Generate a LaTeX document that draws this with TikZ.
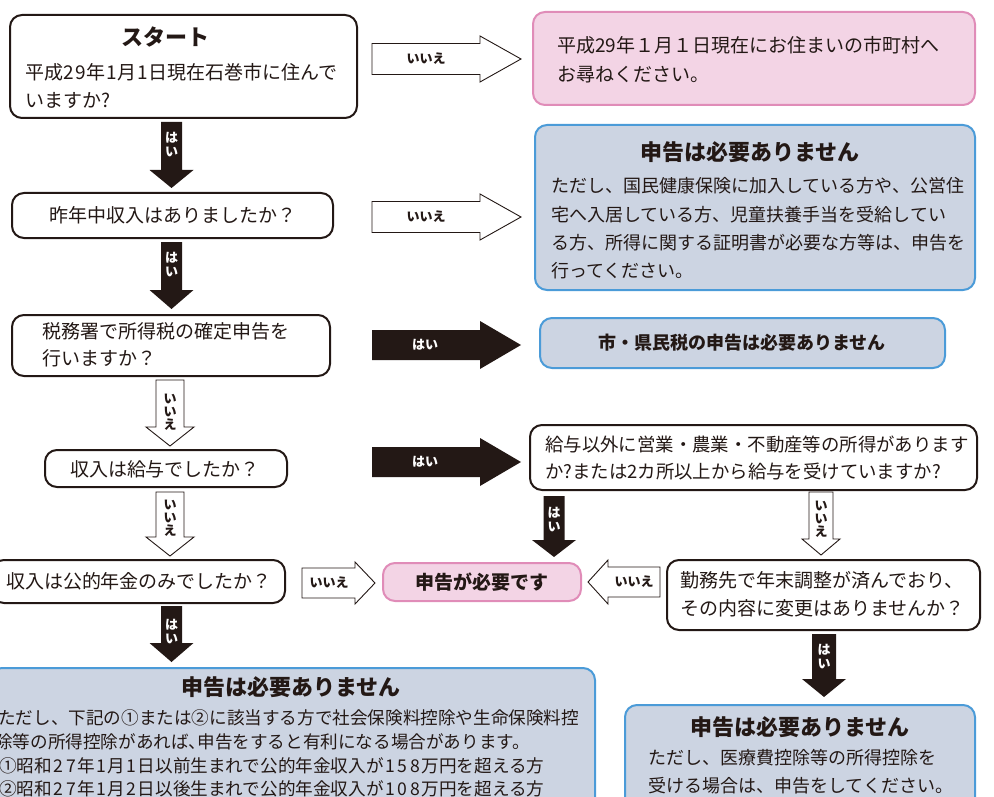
\documentclass[tikz,border=0pt]{standalone}
\usepackage{fontspec}
\setmainfont{Noto Sans CJK JP}
\definecolor{ink}{HTML}{231815}
\definecolor{pinkfill}{HTML}{F3D4E5}
\definecolor{pinkline}{HTML}{E08CB8}
\definecolor{bluefill}{HTML}{CCD4E2}
\definecolor{blueline}{HTML}{4B9BD8}
\ExplSyntaxOn
\NewDocumentCommand\D{O{0.62em}m}{\tl_map_inline:nn{#2}{\makebox[#1]{##1}}}
\ExplSyntaxOff
\newcommand{\hc}{\makebox[0.5em][l]{、}}
\newcommand{\harrow}[8]{%
  \path[#8] ({#2},{#4-#5}) -- ({#3-(#7)},{#4-#5}) -- ({#3-(#7)},{#4-#6}) -- ({#3},{#4}) -- ({#3-(#7)},{#4+#6}) -- ({#3-(#7)},{#4+#5}) -- ({#2},{#4+#5}) -- cycle;}
\newcommand{\varrow}[8]{%
  \path[#8] ({#2-#5},{#3}) -- ({#2-#5},{#4-#7}) -- ({#2-#6},{#4-#7}) -- ({#2},{#4}) -- ({#2+#6},{#4-#7}) -- ({#2+#5},{#4-#7}) -- ({#2+#5},{#3}) -- cycle;}
\tikzset{
  box/.style={draw=ink, line width=2pt, rounded corners=12pt, fill=white, inner sep=0pt},
  pinkbox/.style={draw=pinkline, line width=2pt, rounded corners=12pt, fill=pinkfill, inner sep=0pt},
  bluebox/.style={draw=blueline, line width=2pt, rounded corners=12pt, fill=bluefill, inner sep=0pt},
  txt/.style={text=ink, inner sep=0pt, font=\fontsize{19}{24}\selectfont},
  stxt/.style={text=ink, inner sep=0pt, font=\fontsize{17.6}{22}\selectfont},
  mtxt/.style={text=ink, inner sep=0pt, font=\fontsize{18}{22}\selectfont},
  ttl/.style={text=ink, inner sep=0pt, font=\bfseries\fontsize{22}{26}\selectfont},
  lab/.style={text=ink, inner sep=0pt, align=center, font=\bfseries\fontsize{13}{14}\selectfont},
  wlab/.style={text=white, inner sep=0pt, align=center, font=\bfseries\fontsize{13}{14}\selectfont},
  hollow/.style={draw=ink, line width=0.9pt, fill=white},
  solid/.style={fill=ink, draw=none},
}
\begin{document}
\begin{tikzpicture}[x=1pt,y=-1pt]
\useasboundingbox (0,0) rectangle (994,797);
\clip (0,0) rectangle (994,797);
% ---------- boxes ----------
\node[box, minimum width=347, minimum height=103] (start) at (183.5,66.5) {};
\node[ttl] (startT) at (165,37) {スタート};
\node[txt, anchor=west] (startA) at (25,72) {平成\D{29}年\D{1}月\D{1}日現在石巻市に住んで};
\node[txt, anchor=west] (startB) at (25,100) {いますか?};

\node[pinkbox, minimum width=442, minimum height=93] (move) at (754,58.5) {};
\node[txt, anchor=west] (moveA) at (557,45) {平成29年１月１日現在にお住まいの市町村へ};
\node[txt, anchor=west] (moveB) at (557,75) {お尋ねください。};

\node[box, minimum width=321, minimum height=45] (income) at (172.5,215.5) {};
\node[txt] (incomeT) at (173,215.5) {昨年中収入はありましたか？};

\node[bluebox, minimum width=440, minimum height=165] (none1) at (755,207.5) {};
\node[ttl] (none1T) at (750,152) {申告は必要ありません};
\node[mtxt, anchor=west] (none1A) at (551,186) {ただし、国民健康保険に加入している方や、公営住};
\node[mtxt, anchor=west] (none1B) at (551,215) {宅へ入居している方、児童扶養手当を受給してい};
\node[mtxt, anchor=west] (none1C) at (551,243) {る方、所得に関する証明書が必要な方等は、申告を};
\node[mtxt, anchor=west] (none1D) at (551,271) {行ってください。};

\node[box, minimum width=318, minimum height=61] (taxoffice) at (171,345.5) {};
\node[txt, anchor=west] (taxofficeA) at (42,331) {税務署で所得税の確定申告を};
\node[txt, anchor=west] (taxofficeB) at (42,358) {行いますか？};

\node[bluebox, minimum width=405, minimum height=50] (none2) at (742.5,343) {};
\node[ttl, font=\bfseries\fontsize{18}{22}\selectfont] (none2T) at (742,343) {市・県民税の申告は必要ありません};

\node[box, minimum width=242, minimum height=37] (salary) at (166,468.5) {};
\node[txt] (salaryT) at (165,469) {収入は給与でしたか？};

\node[box, minimum width=447, minimum height=65] (other) at (753.5,457.5) {};
\node[mtxt, font=\fontsize{18.4}{22}\selectfont, anchor=west] (otherA) at (545,444) {給与以外に営業・農業・不動産等の所得があります};
\node[mtxt, font=\fontsize{18.4}{22}\selectfont, anchor=west] (otherB) at (545,471) {か?または2カ所以上から給与を受けていますか?};

\node[box, minimum width=293, minimum height=43] (pension) at (138.5,581.5) {};
\node[txt] (pensionT) at (139,581.5) {収入は公的年金のみでしたか？};

\node[pinkbox, minimum width=198, minimum height=38] (need) at (482,582) {};
\node[ttl, font=\bfseries\fontsize{19}{22}\selectfont] (needT) at (482,582) {申告が必要です};

\node[box, minimum width=313, minimum height=70] (adjust) at (823.5,595) {};
\node[txt, anchor=west] (adjustA) at (680,580) {勤務先で年末調整が済んでおり、};
\node[txt, anchor=west] (adjustB) at (680,608) {その内容に変更はありませんか？};

\node[bluebox, minimum width=605, minimum height=152] (none3) at (292.5,744) {};
\node[ttl] (none3T) at (291,687) {申告は必要ありません};
\node[stxt, anchor=west] (none3A) at (-2,718) {ただし、下記の①または②に該当する方で社会保険料控除や生命保険料控};
\node[stxt, anchor=west] (none3B) at (-5,742) {除等の所得控除があれば\hc 申告をすると有利になる場合があります。};
\node[stxt, anchor=west] (none3C) at (-1,766) {①昭和\D[0.72em]{27}年\D[0.72em]{1}月\D[0.72em]{1}日以前生まれで公的年金収入が\D[0.72em]{158}万円を超える方};
\node[stxt, anchor=west] (none3D) at (-1,789) {②昭和\D[0.72em]{27}年\D[0.72em]{1}月\D[0.72em]{2}日以後生まれで公的年金収入が\D[0.72em]{108}万円を超える方};

\node[bluebox, minimum width=350, minimum height=125] (none4) at (800,767.5) {};
\node[ttl] (none4T) at (800,727) {申告は必要ありません};
\node[mtxt, anchor=west] (none4A) at (648,758) {ただし、医療費控除等の所得控除を};
\node[mtxt, anchor=west] (none4B) at (648,786) {受ける場合は、申告をしてください。};

% ---------- block arrows ----------
\harrow{r1}{372}{521}{59}{15.5}{23}{41}{hollow}
\node[lab] (r1L) at (426,59) {いいえ};
\harrow{r2}{372}{521}{217}{15.5}{23}{41}{hollow}
\node[lab] (r2L) at (426,217) {いいえ};
\harrow{r3}{372}{521}{345}{15}{24}{41}{solid}
\node[wlab] (r3L) at (425,345) {はい};
\harrow{r4}{372}{521}{462}{15}{24}{41}{solid}
\node[wlab] (r4L) at (425,462) {はい};
\harrow{l1}{302}{375}{583}{15}{21}{20}{hollow}
\node[lab] (l1L) at (329,583) {いいえ};
\harrow{l2}{660}{588}{582}{15}{22}{-20}{hollow}
\node[lab] (l2L) at (634,582) {いいえ};

\varrow{d1}{171.5}{122}{188}{10.5}{22}{18}{solid}
\node[wlab] (d1L) at (171.5,145) {は\\い};
\varrow{d2}{171.5}{242}{309}{10.5}{22}{19}{solid}
\node[wlab] (d2L) at (171.5,265) {は\\い};
\varrow{d3}{170}{380}{446}{14}{24}{19}{hollow}
\node[lab, font=\bfseries\fontsize{13}{13}\selectfont] (d3L) at (170,412) {い\\い\\え};
\varrow{d4}{170}{492}{556}{14}{24}{19}{hollow}
\node[lab, font=\bfseries\fontsize{13}{13}\selectfont] (d4L) at (170,518) {い\\い\\え};
\varrow{d5}{171.5}{606}{662}{10.5}{22}{19}{solid}
\node[wlab] (d5L) at (171.5,632) {は\\い};
\varrow{d6}{554}{496}{557}{10.5}{22}{17}{solid}
\node[wlab] (d6L) at (554,520) {は\\い};
\varrow{d7}{821}{492}{555}{12}{19}{16}{hollow}
\node[lab, font=\bfseries\fontsize{13}{13}\selectfont] (d7L) at (821,519) {い\\い\\え};
\varrow{d8}{824}{634}{697}{12}{22}{18}{solid}
\node[wlab] (d8L) at (824,657) {は\\い};
\end{tikzpicture}
\end{document}
